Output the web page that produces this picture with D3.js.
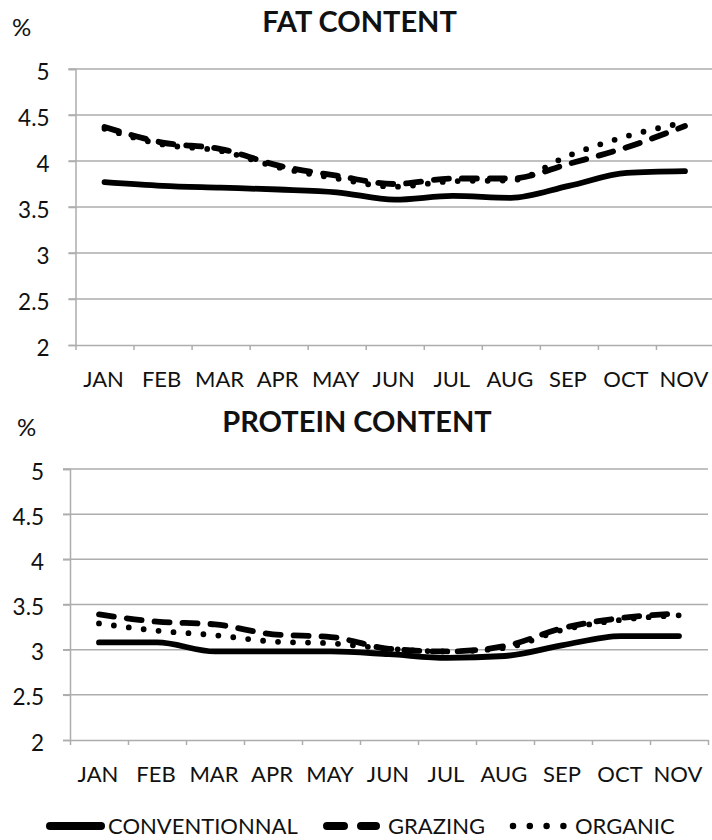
<!DOCTYPE html>
<html>
<head>
<meta charset="utf-8">
<script src="https://cdn.jsdelivr.net/npm/d3@7"></script>
<style>
  html, body { margin: 0; padding: 0; background: #fff; }
  svg { display: block; }
  text { font-family: Lato, "Open Sans", sans-serif; fill: #111; }
</style>
</head>
<body>
<svg id="chart" width="712" height="840"></svg>
<script>
// ---- data ----
const months = ["JAN","FEB","MAR","APR","MAY","JUN","JUL","AUG","SEP","OCT","NOV"];
const yTicks = [2, 2.5, 3, 3.5, 4, 4.5, 5];
const seriesNames = ["CONVENTIONNAL", "GRAZING", "ORGANIC"];

const fatConventional = [3.77, 3.73, 3.71, 3.69, 3.66, 3.58, 3.62, 3.60, 3.73, 3.87, 3.89];
const fatGrazing      = [4.37, 4.20, 4.13, 3.95, 3.84, 3.75, 3.81, 3.81, 3.97, 4.15, 4.38];
const fatOrganic      = [4.35, 4.18, 4.11, 3.93, 3.81, 3.72, 3.78, 3.79, 4.06, 4.27, 4.42];

const proteinConventional = [3.08, 3.08, 2.98, 2.98, 2.98, 2.95, 2.91, 2.93, 3.05, 3.15, 3.15];
const proteinGrazing      = [3.39, 3.31, 3.28, 3.17, 3.14, 3.01, 2.98, 3.04, 3.24, 3.35, 3.40];
const proteinOrganic      = [3.29, 3.21, 3.16, 3.09, 3.07, 3.01, 2.98, 3.02, 3.22, 3.33, 3.38];

// ---- drawing ----
const svg = d3.select("#chart");
const styles = [
  { dash: null },
  { dash: "15,13" },
  { dash: "0,15" }
];

function panel(cfg) {
  const g = svg.append("g");
  const x = d3.scaleLinear().domain([0, months.length]).range([cfg.x0, cfg.x1]);
  const y = d3.scaleLinear().domain([2, 5]).range([cfg.yb, cfg.yt]);

  // gridlines
  g.append("g").selectAll("line").data(yTicks.filter(d => d > 2)).join("line")
    .attr("x1", cfg.x0 - 7).attr("x2", cfg.x1)
    .attr("y1", d => y(d)).attr("y2", d => y(d))
    .attr("stroke", "#adadad").attr("stroke-width", 1.5);

  // y axis
  const ya = g.append("g").attr("transform", `translate(${cfg.x0},0)`)
    .call(d3.axisLeft(y).tickValues(yTicks).tickSize(7).tickPadding(19).tickFormat(d3.format("")));
  ya.select(".domain").attr("stroke", "#adadad").attr("stroke-width", 1.5);
  ya.selectAll(".tick line").attr("stroke", "#adadad").attr("stroke-width", 1.5);
  ya.selectAll("text").attr("font-size", 22.5).attr("dy", "0.45em").attr("fill", "#111")
    .style("font-family", "Lato, sans-serif");

  // x axis
  const xa = g.append("g").attr("transform", `translate(0,${cfg.yb})`)
    .call(d3.axisBottom(x).tickValues(d3.range(months.length + 1)).tickSize(5).tickSizeOuter(0).tickFormat(""));
  xa.select(".domain").attr("stroke", "#adadad").attr("stroke-width", 1.5);
  xa.selectAll(".tick line").attr("stroke", "#adadad").attr("stroke-width", 1.5);

  g.append("g").selectAll("text").data(months).join("text")
    .attr("x", (d, i) => x(i + 0.5) - 1).attr("y", cfg.yb + 42)
    .attr("text-anchor", "middle").attr("font-size", 22).text(d => d);

  // lines
  const line = d3.line().x((d, i) => x(i + 0.5)).y(d => y(d)).curve(d3.curveMonotoneX);
  cfg.series.forEach((s, k) => {
    g.append("path").datum(s)
      .attr("d", line)
      .attr("fill", "none").attr("stroke", "#000").attr("stroke-width", 5.8)
      .attr("stroke-linecap", "round").attr("stroke-linejoin", "round")
      .attr("stroke-dasharray", styles[k].dash);
  });

  // titles
  g.append("text").attr("x", cfg.px).attr("y", cfg.yt - 33).attr("font-size", 24).text("%");
  g.append("text").attr("x", cfg.tx).attr("y", cfg.yt - 37).attr("text-anchor", "middle")
    .attr("font-size", 29).attr("font-weight", 700).text(cfg.title);
}

panel({ x0: 75.5, x1: 714, yt: 69, yb: 345, px: 12, tx: 359.5, title: "FAT CONTENT",
        series: [fatConventional, fatGrazing, fatOrganic] });
panel({ x0: 70, x1: 708, yt: 469, yb: 740, px: 17, tx: 357, title: "PROTEIN CONTENT",
        series: [proteinConventional, proteinGrazing, proteinOrganic] });

// legend
const lg = svg.append("g");
const ly = 826;
const legendItems = [
  { x1: 50, x2: 101, dash: null, w: 8, tx: 108 },
  { x1: 327, x2: 376, dash: "17,17", w: 8, tx: 388 },
  { x1: 513, x2: 564, dash: "0,16.8", w: 6.5, tx: 575 }
];
legendItems.forEach((it, k) => {
  lg.append("line").attr("x1", it.x1).attr("x2", it.x2).attr("y1", ly).attr("y2", ly)
    .attr("stroke", "#000").attr("stroke-width", it.w).attr("stroke-linecap", "round")
    .attr("stroke-dasharray", it.dash);
  lg.append("text").attr("x", it.tx).attr("y", ly + 8).attr("font-size", 22).text(seriesNames[k]);
});
</script>
</body>
</html>
